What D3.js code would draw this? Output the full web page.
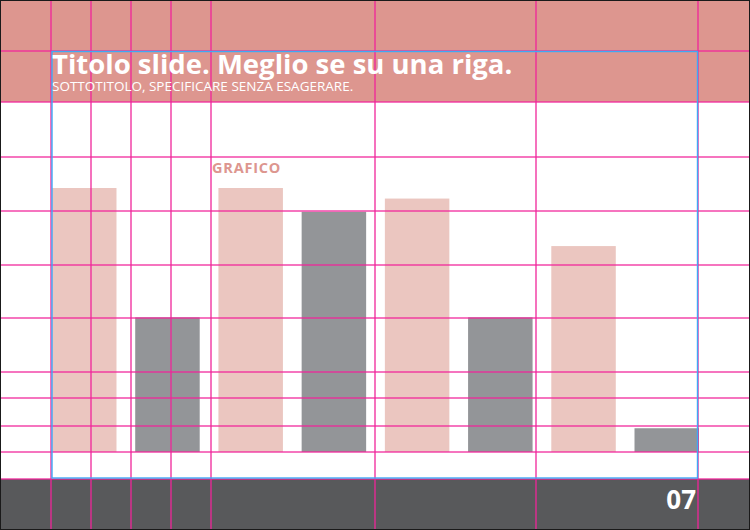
<!DOCTYPE html>
<html>
<head>
<meta charset="utf-8">
<script src="https://cdn.jsdelivr.net/npm/d3@7"></script>
<style>
  html, body { margin: 0; padding: 0; background: #fff; }
  svg { display: block; font-family: "Open Sans", sans-serif; }
</style>
</head>
<body>
<svg id="slide" width="750" height="530"></svg>
<script>
// data
const groups = ["1", "2", "3", "4"];
const seriesPink = [100, 100, 96, 78];
const seriesGray = [51, 91, 51, 9];
const titleText = "Titolo slide. Meglio se su una riga.";
const subtitleText = "SOTTOTITOLO, SPECIFICARE SENZA ESAGERARE.";
const chartLabel = "GRAFICO";
const pageNumber = "07";

// guide lines of the template
const guideX = [51, 91, 131, 171, 211, 375, 536, 698];
const guideY = [51, 102, 157, 211, 265, 318, 372, 398, 426, 452, 479];

function buildSlide(svgid) {
  const svg = d3.select(svgid);
  const width = 750, height = 530;

  // flatten the two series into alternating bars
  const bars = [];
  groups.forEach((g, i) => {
    bars.push({ key: g + "a", value: seriesPink[i], color: "#ebc6c0" });
    bars.push({ key: g + "b", value: seriesGray[i], color: "#939598" });
  });

  // header band
  svg.append("rect")
    .attr("x", 0).attr("y", 0)
    .attr("width", width).attr("height", 102)
    .attr("fill", "#dd968f");

  // footer band
  svg.append("rect")
    .attr("x", 0).attr("y", 479)
    .attr("width", width).attr("height", height - 479)
    .attr("fill", "#58595b");

  const xScale = d3.scaleBand()
    .domain(bars.map(d => d.key))
    .range([52, 699])
    .paddingInner(0.225)
    .paddingOuter(0);

  const yScale = d3.scaleLinear()
    .domain([0, 100])
    .range([452, 188]);

  svg.selectAll(".bar")
    .data(bars)
    .enter().append("rect")
    .attr("class", "bar")
    .attr("x", d => xScale(d.key))
    .attr("y", d => yScale(d.value))
    .attr("width", xScale.bandwidth())
    .attr("height", d => yScale(0) - yScale(d.value))
    .attr("fill", d => d.color);

  // magenta guides
  svg.selectAll(".gx")
    .data(guideX)
    .enter().append("line")
    .attr("x1", d => d).attr("x2", d => d)
    .attr("y1", 0).attr("y2", height)
    .attr("stroke", "#f0259a")
    .attr("stroke-width", 1.3);

  svg.selectAll(".gy")
    .data(guideY)
    .enter().append("line")
    .attr("x1", 0).attr("x2", width)
    .attr("y1", d => d).attr("y2", d => d)
    .attr("stroke", "#f0259a")
    .attr("stroke-opacity", 0.85)
    .attr("stroke-width", 1.3);

  // blue content frame, on top of the guides
  svg.append("rect")
    .attr("x", 52).attr("y", 51.5)
    .attr("width", 645.5).attr("height", 426.5)
    .attr("fill", "none")
    .attr("stroke", "#3fa9f5")
    .attr("stroke-width", 1.4);

  // texts
  svg.append("text")
    .attr("x", 52).attr("y", 73.5)
    .attr("fill", "#fff")
    .style("font-size", "27.5px")
    .style("font-weight", "700")
    .text(titleText);

  svg.append("text")
    .attr("x", 52).attr("y", 91)
    .attr("fill", "#fff")
    .style("font-size", "13.5px")
    .text(subtitleText);

  svg.append("text")
    .attr("x", 212).attr("y", 173)
    .attr("fill", "#dd968f")
    .style("font-size", "14.5px")
    .style("font-weight", "700")
    .style("letter-spacing", "0.8px")
    .text(chartLabel);

  svg.append("text")
    .attr("x", 696).attr("y", 509)
    .attr("text-anchor", "end")
    .attr("fill", "#fff")
    .style("font-size", "26px")
    .style("font-weight", "700")
    .text(pageNumber);

  // outer black border
  svg.append("rect")
    .attr("x", 0.5).attr("y", 0.5)
    .attr("width", width - 1).attr("height", height - 1)
    .attr("fill", "none")
    .attr("stroke", "#1a1a1a")
    .attr("stroke-width", 1);
}

buildSlide("#slide");
</script>
</body>
</html>
